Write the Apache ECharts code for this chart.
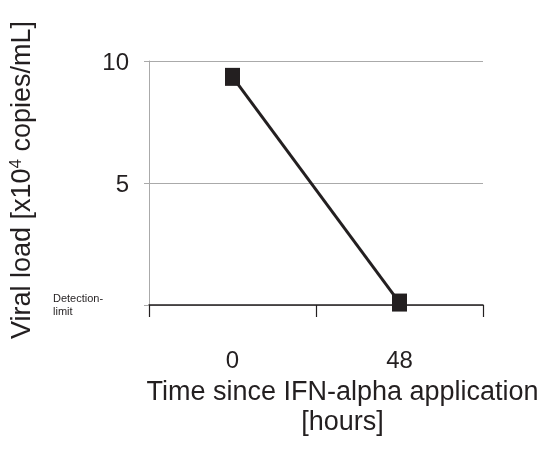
<!DOCTYPE html>
<html><head><meta charset="utf-8">
<script src="https://cdn.jsdelivr.net/npm/echarts@6/dist/echarts.min.js"></script>
<style>html,body{margin:0;padding:0;background:#fff}#c{width:551px;height:463px}</style>
</head><body><div id="c"></div>
<script>
const categories = ['0', '48'];
const viralLoad = [9.35, 0.1];
const yTicks = [0, 5, 10];
const detectionLabel = 'Detection-\nlimit';

const chart = echarts.init(document.getElementById('c'), null, {renderer: 'canvas'});
const narrow = '"Liberation Sans Narrow", "Liberation Sans", Arial, sans-serif';
const sans = '"Liberation Sans", Arial, sans-serif';
chart.setOption({
  animation: false,
  backgroundColor: '#fff',
  grid: {left: 148, right: 68, top: 61, bottom: 158},
  xAxis: {
    type: 'category',
    data: categories,
    boundaryGap: true,
    name: 'Time since IFN-alpha application\n[hours]',
    nameLocation: 'middle',
    nameGap: 65,
    nameTextStyle: {fontFamily: sans, fontSize: 27, color: '#231f20', lineHeight: 30, padding: [0, 0, 0, 53]},
    axisLine: {lineStyle: {color: '#231f20', width: 1.5}},
    axisTick: {show: true, length: 12, lineStyle: {color: '#231f20', width: 1.2}},
    axisLabel: {fontFamily: narrow, fontSize: 24, color: '#231f20', margin: 44}
  },
  yAxis: {
    type: 'value',
    min: yTicks[0], max: yTicks[yTicks.length - 1], interval: 5,
    name: 'Viral load [x10{sup|4} copies/mL]',
    nameLocation: 'middle',
    nameGap: 112,
    nameRotate: 90,
    nameTextStyle: {
      fontFamily: sans, fontSize: 27, color: '#231f20',
      padding: [0, 0, 0, 6],
      rich: {sup: {fontSize: 17, fontFamily: sans, color: '#231f20', padding: [0, 0, 12, 0]}}
    },
    axisLine: {show: true, lineStyle: {color: '#aaaaaa', width: 1}},
    axisTick: {show: true, length: 5, lineStyle: {color: '#aaaaaa'}},
    splitLine: {show: true, lineStyle: {color: '#aaaaaa', width: 1}},
    axisLabel: {
      margin: 20,
      formatter: function (v) { return v === 0 ? '{d|' + detectionLabel.split('\n').join('}\n{d|') + '}' : '{n|' + v + '}'; },
      rich: {
        n: {fontFamily: narrow, fontSize: 24, color: '#231f20', padding: [4, 0, 0, 0]},
        d: {fontFamily: sans, fontSize: 11, color: '#231f20', lineHeight: 13, width: 56, align: 'left', padding: [0, 20, 0, 0]}
      }
    }
  },
  series: [{
    type: 'line',
    data: viralLoad,
    symbol: 'rect',
    symbolSize: [15, 18],
    itemStyle: {color: '#231f20', borderRadius: 2},
    lineStyle: {color: '#231f20', width: 3}
  }]
});
</script></body></html>
